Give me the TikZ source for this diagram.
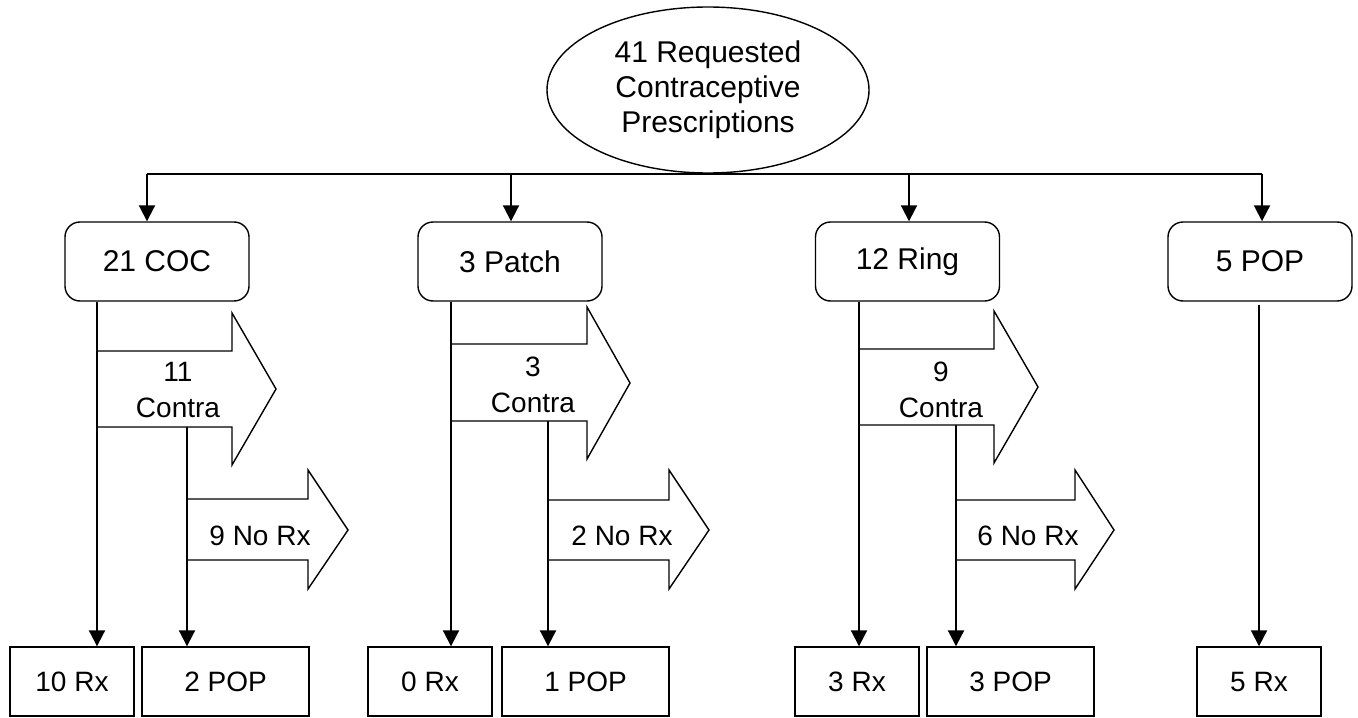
\documentclass[tikz,border=0pt]{standalone}
\usepackage{fontspec}
\setmainfont{Liberation Sans}
\usetikzlibrary{arrows.meta,shapes.geometric}
\begin{document}
\begin{tikzpicture}[x=0.5pt,y=-0.5pt,
  conn/.style={line width=1pt,-{Triangle[width=8pt,length=8pt]}},
  plainline/.style={line width=1pt},
  rbox/.style={draw,line width=0.7pt,rounded corners=7.5pt,minimum width=92pt,minimum height=39.5pt,inner sep=0pt,font=\fontsize{15}{18}\selectfont},
  rxbox/.style={draw,line width=0.7pt,minimum width=62pt,minimum height=34.5pt,inner sep=0pt,font=\fontsize{14}{18}\selectfont},
  popbox/.style={draw,line width=0.7pt,minimum width=83.5pt,minimum height=34.5pt,inner sep=0pt,font=\fontsize{14}{18}\selectfont},
  blockarrow/.style={draw,line width=0.7pt,fill=white},
  lbl/.style={align=center,inner sep=0pt,font=\fontsize{14}{18}\selectfont}]

\useasboundingbox (0,0) rectangle (1358,717);

% top ellipse
\node[draw,ellipse,line width=0.7pt,minimum width=161pt,minimum height=83pt,inner sep=0pt,align=center,font=\fontsize{15}{17.5}\selectfont] (top) at (708,90) {41 Requested\\Contraceptive\\Prescriptions};

% second level boxes
\node[rbox] (coc) at (157,261.5) {21 COC};
\node[rbox] (patch) at (510,261.5) {3 Patch};
\node[rbox] (ring) at (907.5,261.5) {12 Ring};
\node[rbox] (pop) at (1260,261.5) {5 POP};

% bottom boxes
\node[rxbox] (rxa) at (72,681.5) {10 Rx};
\node[popbox] (popa) at (225.5,681.5) {2 POP};
\node[rxbox] (rxb) at (430,681.5) {0 Rx};
\node[popbox] (popb) at (585.5,681.5) {1 POP};
\node[rxbox] (rxc) at (857,681.5) {3 Rx};
\node[popbox] (popc) at (1010.5,681.5) {3 POP};
\node[rxbox] (rxd) at (1259,681.5) {5 Rx};

% top distribution line
\coordinate (h1) at (147,174);
\coordinate (h2) at (511,174);
\coordinate (h3) at (909,174);
\coordinate (h4) at (1262,174);
\draw[plainline] (h1) -- (h4);
\draw[conn] (h1) -- (coc.north -| h1);
\draw[conn] (h2) -- (patch.north -| h2);
\draw[conn] (h3) -- (ring.north -| h3);
\draw[conn] (h4) -- (pop.north -| h4);

% column coordinates
\coordinate (va) at (97,0);
\coordinate (vb) at (451,0);
\coordinate (vc) at (859,0);
\coordinate (vd) at (1259,0);
\coordinate (ka) at (187,427);
\coordinate (kb) at (548,421);
\coordinate (kc) at (956,425);

% vertical connectors
\draw[conn] (coc.south -| va) -- (rxa.north -| va);
\draw[conn] (patch.south -| vb) -- (rxb.north -| vb);
\draw[conn] (ring.south -| vc) -- (rxc.north -| vc);
\draw[conn] ([yshift=-1.5pt]pop.south -| vd) -- (rxd.north -| vd);
\draw[conn] (ka) -- (popa.north -| ka);
\draw[conn] (kb) -- (popb.north -| kb);
\draw[conn] (kc) -- (popc.north -| kc);

% block arrows: Contra
\draw[blockarrow] (97,351) -- (232,351) -- (232,313) -- (276,389) -- (232,465) -- (232,427) -- (97,427) -- cycle;
\draw[blockarrow] (451,344) -- (587,344) -- (587,307) -- (630,383) -- (587,459) -- (587,421) -- (451,421) -- cycle;
\draw[blockarrow] (859,349) -- (994,349) -- (994,311) -- (1038,387) -- (994,463) -- (994,425) -- (859,425) -- cycle;

% block arrows: No Rx
\draw[blockarrow] (187,499) -- (308,499) -- (308,470) -- (348,530) -- (308,589) -- (308,560) -- (187,560) -- cycle;
\draw[blockarrow] (548,500) -- (669,500) -- (669,470) -- (709,530) -- (669,589) -- (669,560) -- (548,560) -- cycle;
\draw[blockarrow] (956,500) -- (1075,500) -- (1075,470) -- (1114,530) -- (1075,589) -- (1075,560) -- (956,560) -- cycle;

% redraw vertical line segments on top of arrow edges
\draw[plainline] (97,351) -- (97,427);
\draw[plainline] (451,344) -- (451,421);
\draw[plainline] (859,349) -- (859,425);
\draw[plainline] (187,499) -- (187,560);
\draw[plainline] (548,500) -- (548,560);
\draw[plainline] (956,500) -- (956,560);

% labels
\node[lbl] (la) at (178,390) {11\\Contra};
\node[lbl] (lb) at (533,385) {3\\Contra};
\node[lbl] (lc) at (941,390) {9\\Contra};
\node[lbl] (na) at (260,536) {9 No Rx};
\node[lbl] (nb) at (622,536) {2 No Rx};
\node[lbl] (nc) at (1028,536) {6 No Rx};
\end{tikzpicture}
\end{document}
